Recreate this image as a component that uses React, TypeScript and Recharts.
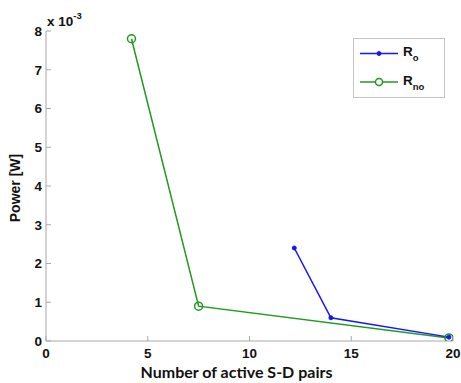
import React from 'react';
import { LineChart, Line, XAxis, YAxis, Legend } from 'recharts';

const roX = [12.2, 14.0, 19.8];
const roY = [0.0024, 0.0006, 0.0001];
const rnoX = [4.2, 7.5, 19.8];
const rnoY = [0.0078, 0.0009, 0.00008];
const xTicks = [0, 5, 10, 15, 20];
const yTicks = [0, 0.001, 0.002, 0.003, 0.004, 0.005, 0.006, 0.007, 0.008];
const seriesNames = ['o', 'no'];

const BLUE = '#1414ff';
const GREEN = '#1f9a1f';
const AXIS = '#a8a8a8';
const FONT = '"Liberation Sans", Arial, sans-serif';

const roData = roX.map((x, i) => ({ x, y: roY[i] }));
const rnoData = rnoX.map((x, i) => ({ x, y: rnoY[i] }));

const BottomTick = (p: any) => (
  <g>
    <line x1={p.x} x2={p.x} y1={p.y} y2={p.y - 5} stroke={AXIS} />
    <text x={p.x} y={p.y + 16.5} textAnchor="middle" fontFamily={FONT} fontWeight="bold" fontSize={13.5} fill="#111">
      {p.payload.value}
    </text>
  </g>
);
const TopTick = (p: any) => (
  <line x1={p.x} x2={p.x} y1={p.y} y2={p.y + 5} stroke={AXIS} />
);
const LeftTick = (p: any) => (
  <g>
    <line x1={p.x} x2={p.x + 5} y1={p.y} y2={p.y} stroke={AXIS} />
    <text x={p.x - 4} y={p.y + 4.8} textAnchor="end" fontFamily={FONT} fontWeight="bold" fontSize={13.5} fill="#111">
      {Math.round(p.payload.value * 1000)}
    </text>
  </g>
);
const RightTick = (p: any) => (
  <line x1={p.x} x2={p.x - 5} y1={p.y} y2={p.y} stroke={AXIS} />
);

const YLabel = (props: any) => {
  const vb = props.viewBox || { x: 0, y: 31, width: 46, height: 310 };
  const cy = vb.y + vb.height / 2 + 2;
  return (
    <g>
      <text x={20} y={cy} transform={`rotate(-90, 20, ${cy})`} textAnchor="middle" fontFamily={FONT} fontWeight="bold" fontSize={14} fill="#111">
        Power [W]
      </text>
      <text x={vb.x + vb.width + 1} y={vb.y - 5} fontFamily={FONT} fontWeight="bold" fontSize={13.5} fill="#111">
        x 10<tspan dy={-7} fontSize={9.5}>-3</tspan>
      </text>
    </g>
  );
};

const XLabel = (props: any) => {
  const vb = props.viewBox || { x: 46, y: 341, width: 407, height: 42 };
  return (
    <text x={vb.x + vb.width / 2 - 13} y={vb.y + 37} textAnchor="middle" fontFamily="Lato, sans-serif" fontWeight="bold" fontSize={16} fill="#111">
      Number of active S-D pairs
    </text>
  );
};

const LegendBox = () => (
  <svg width={92} height={60} style={{ display: 'block' }}>
    <rect x={0.5} y={0.5} width={91} height={59} fill="#fff" stroke="#c4c4c4" />
    <line x1={7} x2={45} y1={15.5} y2={15.5} stroke={BLUE} strokeWidth={1.5} />
    <circle cx={26} cy={15.5} r={2} fill={BLUE} stroke={BLUE} />
    <text x={50} y={18} fontFamily={FONT} fontWeight="bold" fontSize={13.5} fill="#111">
      R<tspan dy={5} fontSize={9.5}>{seriesNames[0]}</tspan>
    </text>
    <line x1={7} x2={45} y1={44} y2={44} stroke={GREEN} strokeWidth={1.5} />
    <circle cx={26} cy={44} r={3.5} fill="#fff" stroke={GREEN} strokeWidth={1.5} />
    <text x={50} y={47} fontFamily={FONT} fontWeight="bold" fontSize={13.5} fill="#111">
      R<tspan dy={5} fontSize={9.5}>{seriesNames[1]}</tspan>
    </text>
  </svg>
);

export default function App() {
  return (
    <div style={{ position: 'absolute', left: 0, top: 0, width: 461, height: 383, background: '#fff' }}>
      <LineChart width={461} height={383} margin={{ top: 31, right: 8, bottom: 0, left: 0 }}>
        <XAxis xAxisId="b" dataKey="x" type="number" domain={[0, 20]} ticks={xTicks} allowDataOverflow
          orientation="bottom" height={42} tickSize={0} tickMargin={0} stroke={AXIS} tickLine={false}
          tick={<BottomTick />} interval={0} label={{ content: <XLabel /> } as any} />
        <XAxis xAxisId="t" dataKey="x" type="number" domain={[0, 20]} ticks={xTicks} allowDataOverflow
          orientation="top" height={0} tickSize={0} tickMargin={0} stroke={AXIS} tickLine={false}
          tick={<TopTick />} interval={0} />
        <YAxis yAxisId="l" type="number" domain={[0, 0.008]} ticks={yTicks} allowDataOverflow
          orientation="left" width={46} tickSize={0} tickMargin={0} stroke={AXIS} tickLine={false}
          tick={<LeftTick />} interval={0} label={{ content: <YLabel /> } as any} />
        <YAxis yAxisId="r" type="number" domain={[0, 0.008]} ticks={yTicks} allowDataOverflow
          orientation="right" width={0} tickSize={0} tickMargin={0} stroke={AXIS} tickLine={false}
          tick={<RightTick />} interval={0} />
        <Legend layout="vertical" align="center" verticalAlign="middle" content={<LegendBox />}
          wrapperStyle={{ left: 353, top: 38, width: 92, height: 60 }} />
        <Line xAxisId="b" yAxisId="l" data={rnoData} dataKey="y" name="R_no" stroke={GREEN} strokeWidth={1.5}
          dot={{ r: 4, fill: 'none', stroke: GREEN, strokeWidth: 1.5 }} isAnimationActive={false} />
        <Line xAxisId="b" yAxisId="l" data={roData} dataKey="y" name="R_o" stroke={BLUE} strokeWidth={1.5}
          dot={{ r: 2, fill: BLUE, stroke: BLUE, strokeWidth: 1 }} isAnimationActive={false} />
      </LineChart>
    </div>
  );
}
